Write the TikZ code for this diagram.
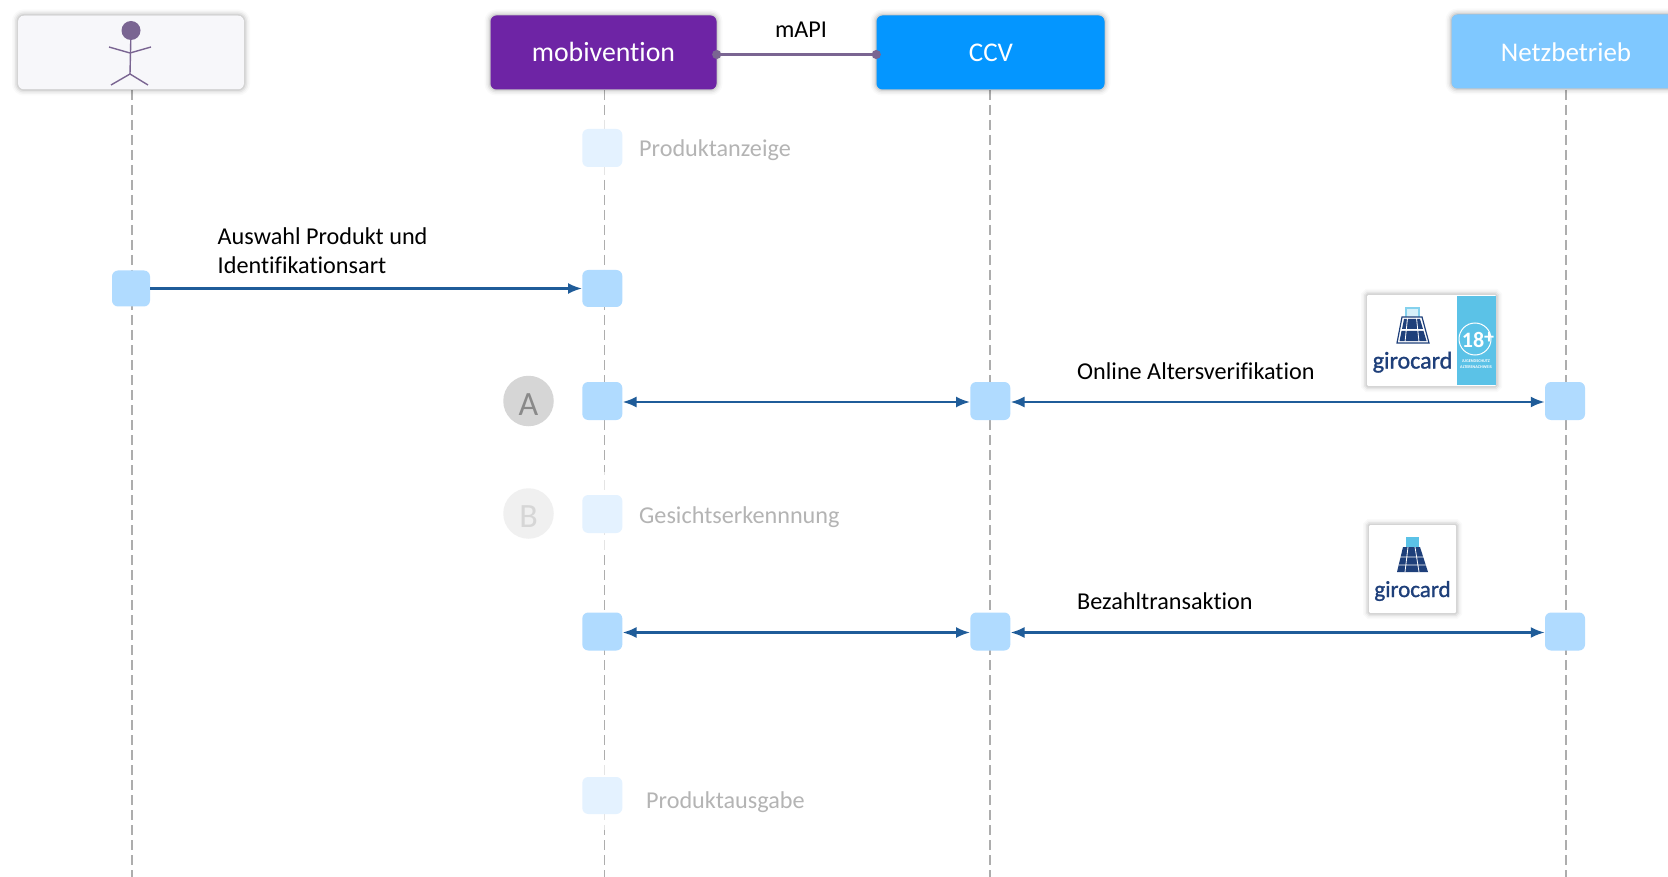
\documentclass[tikz,border=0pt]{standalone}
\usepackage{fontspec}
\setmainfont[Ligatures={NoCommon}]{Carlito}
\newfontfamily\gfont[FakeBold=1.2]{Carlito}
\usetikzlibrary{shadows,arrows.meta}
\definecolor{actbg}{HTML}{F7F7FA}
\definecolor{mobi}{HTML}{6E24A5}
\definecolor{ccvc}{HTML}{0496FF}
\definecolor{netz}{HTML}{7FC8FF}
\definecolor{actv}{HTML}{B0DBFF}
\definecolor{actl}{HTML}{E4F2FF}
\definecolor{lnk}{HTML}{1F5C99}
\definecolor{vio}{HTML}{7A6592}
\definecolor{life}{HTML}{ADADAD}
\definecolor{gtxt}{HTML}{B4B4B4}
\definecolor{gnavy}{HTML}{1E3F7A}
\definecolor{gsky}{HTML}{5BC2E7}
\tikzset{
 softsh/.style={
  general shadow={draw=black,fill=black,line width=12pt,opacity=.02},
  general shadow={draw=black,fill=black,line width=9pt,opacity=.03},
  general shadow={draw=black,fill=black,line width=6pt,opacity=.05},
  general shadow={draw=black,fill=black,line width=3pt,opacity=.07}},
 headbox/.style={softsh,rounded corners=6pt,inner sep=0pt,text=white,font=\fontsize{27}{27}\selectfont},
 actbox/.style={rounded corners=6pt,inner sep=0pt,fill=actv},
 lightbox/.style={actbox,fill=actl},
 lifeline/.style={life,line width=1.2pt,dash pattern=on 10pt off 5pt},
 msg/.style={lnk,line width=2.4pt,-{Latex[length=14pt,width=11pt]}},
 msgb/.style={lnk,line width=2.4pt,{Latex[length=14pt,width=11pt]}-{Latex[length=14pt,width=11pt]}},
 lbl/.style={inner sep=0pt,anchor=base west,text=black,font=\fontsize{24.2}{24.2}\selectfont},
 grey/.style={lbl,text=gtxt},
 marker/.style={circle,inner sep=0pt,minimum size=50.5pt,font=\fontsize{34}{34}\selectfont},
 card/.style={softsh,fill=white,rounded corners=1pt,inner sep=0pt},
 gword/.style={inner sep=0pt,text=gnavy,anchor=base},
 stick/.style={vio,line width=1.4pt},
 fade/.style={fill=white,opacity=.68},
}
\begin{document}
\begin{tikzpicture}[x=1pt,y=-1pt]
\useasboundingbox (0,0) rectangle (1668,877);
\fill[white] (0,0) rectangle (1668,877);
% lifelines
\coordinate (a0) at (132,90); \coordinate (a1) at (132,877);
\coordinate (m0) at (604.5,90); \coordinate (m1) at (604.5,877);
\coordinate (c0) at (990,90); \coordinate (c1) at (990,877);
\coordinate (n0) at (1566,90); \coordinate (n1) at (1566,877);
\draw[lifeline] (a0)--(a1);
\draw[lifeline] (m0)--(m1);
\draw[lifeline] (c0)--(c1);
\draw[lifeline] (n0)--(n1);
\fill[fade] (600,120) rectangle (610,175);
\fill[fade] (600,472) rectangle (610,553);
\fill[fade] (600,760) rectangle (610,830);
% header boxes
\node[headbox,fill=actbg,minimum width=226pt,minimum height=74pt] (actor) at (131,52.5) {};
\node[headbox,fill=mobi,minimum width=226pt,minimum height=74pt,font=\fontsize{27.8}{27.8}\selectfont] (mob) at (603.5,52.5) {\raisebox{-9.5pt}[0pt][0pt]{mobivention}};
\node[headbox,fill=ccvc,minimum width=228pt,minimum height=74pt] (ccv) at (990.5,52.5) {\hspace*{1pt}\raisebox{-9.5pt}[0pt][0pt]{CCV}};
\node[headbox,fill=netz,minimum width=229pt,minimum height=74pt,text=white] (netzb) at (1566,51.5) {\raisebox{-10pt}[0pt][0pt]{Netzbetrieb}};
% stick figure
\node[circle,fill=vio,inner sep=0pt,minimum size=19pt] (head) at (131,30.5) {};
\coordinate (hip) at (130,74); \coordinate (sh) at (130,53);
\coordinate (la) at (109,47); \coordinate (ra) at (151,47);
\coordinate (ll) at (111,85); \coordinate (rl) at (148,85);
\draw[stick] (head)--(hip);
\draw[stick] (la)--(sh)--(ra);
\draw[stick] (ll)--(hip)--(rl);
% mAPI
\draw[vio,line width=2.4pt,shorten <=-4.5pt,shorten >=-4.5pt,{Circle[length=9pt,width=9pt]}-{Circle[length=9pt,width=9pt]}] ([yshift=-2pt]mob.east)--([yshift=-2pt]ccv.west);
\node[lbl,anchor=base] (mapi) at (801,38) {mAPI};
% activations
\node[lightbox,minimum width=40pt,minimum height=38pt] (s1) at (602.3,148) {};
\node[actbox,minimum width=38pt,minimum height=36pt] (s2) at (131,288.5) {};
\node[actbox,minimum width=40pt,minimum height=37pt] (s3) at (602.3,288.5) {};
\node[actbox,minimum width=40pt,minimum height=38pt] (s4) at (602.3,401) {};
\node[actbox,minimum width=40pt,minimum height=38pt] (s5) at (990.3,401) {};
\node[actbox,minimum width=40pt,minimum height=38pt] (s6) at (1565,401) {};
\node[lightbox,minimum width=40pt,minimum height=38pt] (s7) at (602.3,514) {};
\node[actbox,minimum width=40pt,minimum height=38pt] (s8) at (602.3,631.5) {};
\node[actbox,minimum width=40pt,minimum height=38pt] (s9) at (990.3,631.5) {};
\node[actbox,minimum width=40pt,minimum height=38pt] (s10) at (1565,631.5) {};
\node[lightbox,minimum width=40pt,minimum height=37pt] (s11) at (602.3,795.5) {};
% messages
\draw[msg] (s2)--(s3);
\draw[msgb] ([yshift=-1pt]s4.east)--([yshift=-1pt]s5.west);
\draw[msgb] ([yshift=-1pt]s5.east)--([yshift=-1pt]s6.west);
\draw[msgb] ([yshift=-1pt]s8.east)--([yshift=-1pt]s9.west);
\draw[msgb] ([yshift=-1pt]s9.east)--([yshift=-1pt]s10.west);
% markers
\node[marker,fill=black!16,text=black!46] (mA) at (528.5,401) {\raisebox{-14pt}[0pt][0pt]{A}};
\node[marker,fill=black!6,text=black!16] (mB) at (528.5,513.5) {\raisebox{-14pt}[0pt][0pt]{B}};
% labels
\node[grey] (t1) at (639,157) {Produktanzeige};
\node[lbl] (t2) at (217.5,245) {Auswahl Produkt und};
\node[lbl] (t3) at (217.5,274) {Identifikationsart};
\node[lbl] (t4) at (1077,379) {Online Altersverifikation};
\node[grey] (t5) at (639,523) {Gesichtserkennnung};
\node[lbl] (t6) at (1077,609) {Bezahltransaktion};
\node[grey] (t7) at (646,808) {Produktausgabe};
% girocard 18+
\node[card,minimum width=129pt,minimum height=91pt] (g1) at (1431.5,340.5) {};
\fill[gsky] (1457,296) rectangle (1496,385);
\draw[gsky!75!white,line width=1.2pt,fill=gsky!25!white] (1406,308) rectangle (1419,320);
\draw[gnavy,line width=1.2pt,fill=white] (1402,317)--(1422,317)--(1429,343)--(1397,343)--cycle;
\fill[gnavy] (1404,319)--(1420,319)--(1423,329)--(1402,329)--cycle;
\fill[gnavy] (1401.5,331)--(1423.5,331)--(1426.5,341)--(1399.5,341)--cycle;
\draw[white,line width=.8pt] (1407.5,318)--(1405,342) (1416.5,318)--(1419,342);
\node[gword,font=\gfont\fontsize{24}{24}\selectfont] (gw1) at (1412.5,368.5) {girocard};
\draw[white,line width=1pt] (1475,339) circle (16pt);
\node[inner sep=0pt,text=white,font=\bfseries\fontsize{22}{22}\selectfont] (n18) at (1473,339.5) {18};
\node[inner sep=0pt,text=white,font=\bfseries\fontsize{20}{20}\selectfont] (plus) at (1489,338) {+};
\node[inner sep=0pt,text=white,align=center,font=\bfseries\fontsize{4.2}{5.5}\selectfont] (jug) at (1476,364) {JUGENDSCHUTZ\\ALTERSNACHWEIS};
% girocard
\node[card,minimum width=87pt,minimum height=88pt] (g2) at (1412.5,569) {};
\fill[gsky] (1406,537) rectangle (1419,550);
\fill[gnavy] (1403,547)--(1420,547)--(1428,572)--(1397,572)--cycle;
\draw[white,line width=.8pt] (1400,557)--(1425,557) (1399,565)--(1427,565) (1408,547)--(1405,572) (1415,547)--(1419,572);
\node[gword,font=\gfont\fontsize{23}{23}\selectfont] (gw2) at (1412.5,597) {girocard};
\end{tikzpicture}
\end{document}
